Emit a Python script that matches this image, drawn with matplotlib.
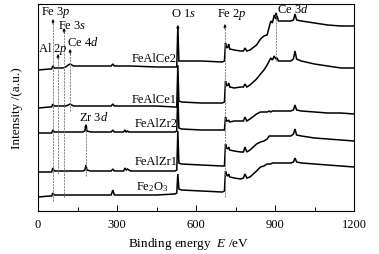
import numpy as np
import pandas as pd
import matplotlib
matplotlib.use('Agg')
import matplotlib.pyplot as plt

plt.rcParams['font.family'] = ['Liberation Serif', 'DejaVu Serif']
plt.rcParams['mathtext.fontset'] = 'custom'
plt.rcParams['mathtext.rm'] = 'Liberation Serif'
plt.rcParams['mathtext.it'] = 'Liberation Serif:italic'

# binding energy grid (eV) shared by all spectra
energy = [0, 45, 52, 56, 62, 95, 105, 115, 122, 135, 170, 178, 182, 186, 200,
          278, 284, 290, 325, 330, 335, 340, 345, 352, 450, 520, 527, 531, 535, 545,
          620, 700, 708, 712, 716, 721, 724, 728, 745, 770, 780, 786, 793, 805, 830,
          845, 858, 870, 878, 884, 890, 897, 903, 908, 913, 930, 960, 970, 976, 982,
          1000, 1050, 1100, 1150, 1200]

# intensities (a.u., curves already offset)
feal_ce2 = [141, 142, 142, 145, 143, 143, 144, 146, 147, 145, 145, 145, 145, 145, 145,
            145, 147, 145, 145, 145, 145, 145, 145, 145, 144, 144, 144, 185, 150, 150,
            150, 149, 150, 168, 163, 164, 167, 162, 161, 160, 160, 163, 160, 161, 166,
            172, 175, 176, 184, 190, 188, 196, 192, 195, 190, 190, 190, 191, 197, 191,
            190, 188, 186, 185, 185]
feal_ce1 = [103, 104, 104, 107, 105, 105, 105, 106, 107, 105, 105, 105, 105, 105, 105,
            105, 107, 105, 105, 105, 105, 105, 105, 105, 105, 104, 104, 146, 110, 109,
            108, 108, 109, 130, 125, 126, 128, 124, 123, 124, 124, 127, 124, 126, 132,
            137, 141, 146, 150, 153, 151, 155, 152, 153, 150, 150, 150, 152, 160, 152,
            150, 147, 145, 143, 143]
feal_zr2 = [78, 78, 78, 81, 79, 79, 79, 79, 79, 79, 79, 80, 86, 80, 79,
            79, 81, 79, 79, 81, 79, 80, 79, 79, 79, 79, 80, 120, 83, 82,
            81, 81, 81, 94, 90, 90, 91, 89, 90, 90, 90, 94, 90, 92, 97,
            99, 99, 99, 100, 99, 100, 100, 100, 100, 100, 100, 100, 101, 106, 101,
            100, 99, 98, 98, 97]
feal_zr1 = [39, 39, 39, 43, 40, 40, 40, 40, 40, 40, 40, 41, 46, 41, 40,
            40, 42, 40, 40, 43, 41, 42, 41, 40, 40, 40, 41, 80, 48, 47,
            46, 45, 45, 67, 63, 62, 64, 61, 60, 59, 59, 64, 59, 61, 67,
            69, 70, 72, 75, 75, 75, 75, 75, 75, 75, 75, 75, 77, 82, 76,
            75, 73, 72, 71, 70]
fe2o3 = [14, 15, 15, 18, 16, 16, 16, 16, 16, 16, 16, 16, 16, 16, 16,
         16, 21, 16, 16, 16, 16, 16, 16, 16, 16, 17, 18, 37, 22, 21,
         20, 19, 20, 40, 36, 35, 37, 34, 33, 32, 33, 37, 33, 34, 40,
         44, 45, 47, 47, 47, 48, 48, 48, 48, 48, 48, 48, 49, 53, 49,
         48, 47, 46, 45, 44]

samples = ['FeAlCe2', 'FeAlCe1', 'FeAlZr2', 'FeAlZr1', r'Fe$_2$O$_3$']
spectra = pd.DataFrame({'E': energy, 'FeAlCe2': feal_ce2, 'FeAlCe1': feal_ce1,
                        'FeAlZr2': feal_zr2, 'FeAlZr1': feal_zr1, 'Fe2O3': fe2o3})

# peak markers: label, energy
peak_names = [r'Fe 3$\mathit{p}$', r'Al 2$\mathit{p}$', r'Fe 3$\mathit{s}$', r'Ce 4$\mathit{d}$',
              r'Zr 3$\mathit{d}$', r'O 1$\mathit{s}$', r'Fe 2$\mathit{p}$', r'Ce 3$\mathit{d}$']
peak_energy = [57, 76, 99, 122, 182, 531, 710, 904]

fig = plt.figure(figsize=(3.79, 2.55), dpi=100)
ax = fig.add_axes([38/379, 43/255, 316/379, 207/255])

for col in ['FeAlCe2', 'FeAlCe1', 'FeAlZr2', 'FeAlZr1', 'Fe2O3']:
    ax.plot(spectra['E'], spectra[col], c='k', lw=1.1, solid_joinstyle='miter')

# layout for the marker annotations: (text x, text y, arrow tip y, dashed line bottom)
marker_layout = [(68, 199, 192, 10), (55, 163, 157, 37), (129, 186, 183, 14),
                 (169, 169, 162, 100), (213, 94, 87, 35), (554, 198, 186, None),
                 (737, 197, 187, 14), (968, 202, 199, 150)]
for name, e, (tx, ty, tip, bottom) in zip(peak_names, peak_energy, marker_layout):
    ax.text(tx, ty, name, ha='center', va='center', fontsize=9)
    if bottom is not None:
        ax.plot([e, e], [bottom, tip - 3], c='0.45', lw=0.6, ls=(0, (2.5, 1.2)))
    ax.annotate('', xy=(e, tip), xytext=(e, tip - 5),
                arrowprops=dict(arrowstyle='-|>', color='k', lw=0.6,
                                mutation_scale=4, shrinkA=0, shrinkB=0))

label_pos = [(528, 153, 'right'), (528, 112, 'right'), (531, 88, 'right'),
             (531, 50, 'right'), (433, 25, 'center')]
for name, (lx, ly, ha) in zip(samples, label_pos):
    ax.text(lx, ly, name, ha=ha, va='center', fontsize=9)

ax.set_xlim(0, 1200)
ax.set_ylim(0, 207)
ax.set_xticks([0, 300, 600, 900, 1200])
ax.set_xticks([150, 450, 750, 1050], minor=True)
ax.set_yticks([])
ax.tick_params(axis='x', which='major', direction='in', length=4, width=0.7,
               labelsize=9, pad=5)
ax.tick_params(axis='x', which='minor', direction='in', length=3, width=0.7)
for s in ax.spines.values():
    s.set_linewidth(0.8)
ax.set_xlabel(r'Binding energy  $\mathit{E}$ /eV', fontsize=9.5)
ax.xaxis.set_label_coords(0.475, -0.115)
ax.set_ylabel('Intensity /(a.u.)', fontsize=9.5, labelpad=11)

fig.savefig('out.png', dpi=100)
